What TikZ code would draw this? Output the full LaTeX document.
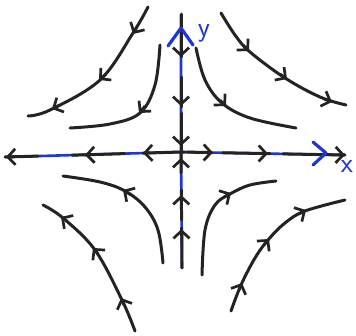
\documentclass[tikz,border=0pt]{standalone}
\usetikzlibrary{arrows.meta}
\definecolor{ink}{RGB}{35,35,35}
\definecolor{pen}{RGB}{30,55,210}
\begin{document}
\begin{tikzpicture}[x=1pt,y=-1pt,
  traj/.style={draw=ink,line width=3pt,line cap=round,line join=round},
  tipseg/.style={draw=ink,line width=2.7pt,-{Straight Barb[length=7.5pt,width=16pt]}},
  axisblue/.style={draw=pen,line width=2.6pt},
  axisblack/.style={draw=ink,line width=3pt,line cap=round},
  bluehead/.style={draw=pen,line width=3.2pt,line cap=round,line join=round},
  lbl/.style={text=pen,font=\fontsize{28}{28}\selectfont\sffamily}]
\useasboundingbox (0,0) rectangle (356,335);

% axes (blue underneath)
\draw[axisblue] (5,157) -- (181,152) -- (345,155);
\draw[axisblue] (181,14) -- (181,152) -- (182,268);
% black overlays on the axes
\draw[axisblack] (5,157) -- (38,156.1);
\draw[axisblack] (72,155.2) -- (125,153.6);
\draw[axisblack] (143,153.1) -- (181,152) -- (185,152.1);
\draw[axisblack] (187,152.1) -- (212,152.6);
\draw[axisblack] (223,152.8) -- (270,153.6);
\draw[axisblack] (283,153.9) -- (345,155);
\draw[axisblack] (181,14) -- (181,57);
\draw[axisblack] (181,77) -- (181,107);
\draw[axisblack] (181,113) -- (181,150);
\draw[axisblack] (181,154) -- (181.2,173);
\draw[axisblack] (181.3,190) -- (181.6,220);
\draw[axisblack] (181.7,228) -- (182,268);
% arrowheads on the axes
\draw[tipseg] (181,50) -- (181,57);
\draw[tipseg] (181,99) -- (181,106);
\draw[tipseg] (181,139) -- (181,146);
\draw[tipseg] (181,165) -- (181,158);
\draw[tipseg] (181.2,202) -- (181.2,195);
\draw[tipseg] (181.5,236) -- (181.5,229);
\draw[tipseg] (150,152.9) -- (143,153.1);
\draw[tipseg] (92,154.8) -- (85,155);
\draw[tipseg] (14,156.8) -- (6,157);
\draw[tipseg] (206,152.5) -- (213,152.6);
\draw[tipseg] (261,153.5) -- (268,153.6);
\draw[tipseg] (338,154.9) -- (345,155);
\draw[bluehead] (168,46) -- (181,28) -- (193,45);
\draw[bluehead] (313,142) -- (326,153) -- (313,165);
\node[lbl] (ylab) at (204,33) {y};
\node[lbl] (xlab) at (347,166) {x};

% top-left
\draw[traj] plot[smooth,tension=0.6] coordinates {(148,7) (133,33) (100,80) (50,110) (28,116)};
\draw[tipseg] (137,27) -- (133,34);
\draw[tipseg] (106,74) -- (99,80);
\draw[tipseg] (60,105) -- (52,109);
\draw[traj] plot[smooth,tension=0.6] coordinates {(160,45) (155,85) (140,113) (110,124) (70,128)};
\draw[tipseg] (145,106) -- (139,113);
% top-right
\draw[traj] plot[smooth,tension=0.6] coordinates {(221,13) (235,35) (250,52) (285,78) (320,97) (346,105)};
\draw[tipseg] (243,45) -- (249,51);
\draw[tipseg] (280,74) -- (287,79);
\draw[tipseg] (324,99) -- (332,102);
\draw[traj] plot[smooth,tension=0.6] coordinates {(196,48) (205,80) (222,103) (250,118) (296,128)};
\draw[tipseg] (220,100) -- (226,106);
% bottom-left
\draw[traj] plot[smooth,tension=0.6] coordinates {(163,263) (158,230) (145,207) (125,191) (100,182) (63,176)};
\draw[tipseg] (131,195) -- (123,190);
\draw[traj] plot[smooth,tension=0.6] coordinates {(135,331) (122,300) (95,250) (63,218) (43,205)};
\draw[tipseg] (124,305) -- (121,298);
\draw[tipseg] (98,254) -- (93,248);
\draw[tipseg] (67,221) -- (61,217);
% bottom-right
\draw[traj] plot[smooth,tension=0.6] coordinates {(202,275) (205,230) (215,205) (230,194) (250,185) (276,181)};
\draw[tipseg] (224,197) -- (231,193);
\draw[traj] plot[smooth,tension=0.6] coordinates {(231,311) (241,285) (255,258) (268,240) (285,223) (305,211) (345,200)};
\draw[tipseg] (239,290) -- (242,283);
\draw[tipseg] (264,245) -- (269,239);
\draw[tipseg] (299,214) -- (306,210);
\end{tikzpicture}
\end{document}
